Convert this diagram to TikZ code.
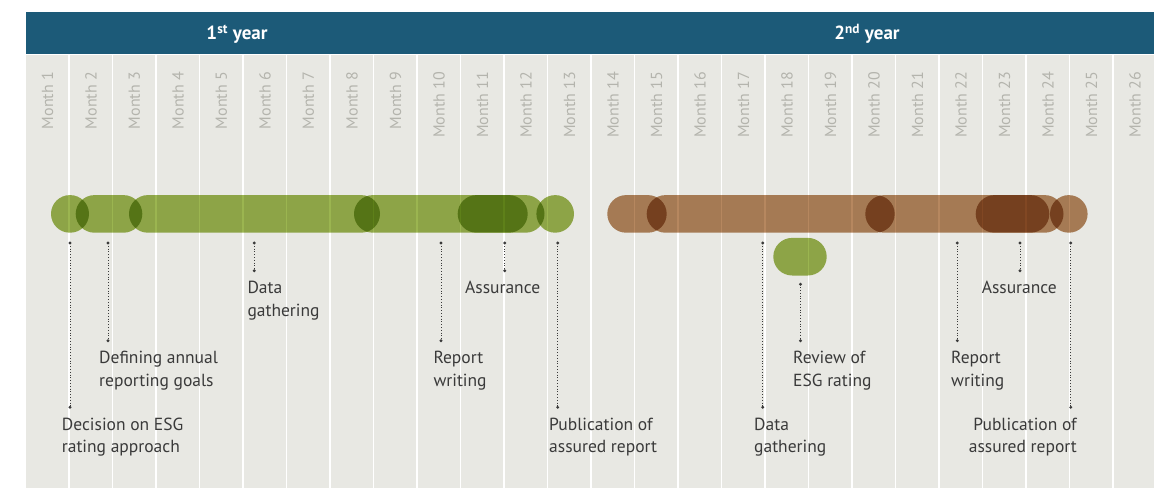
\documentclass[tikz,border=0pt]{standalone}
\usepackage{fontspec}
\setmainfont{PT Sans}
\usetikzlibrary{shapes.misc}
\definecolor{hdr}{RGB}{28,90,120}
\definecolor{panel}{RGB}{232,232,227}
\definecolor{mon}{RGB}{180,180,173}
\definecolor{txt}{RGB}{58,58,58}
\definecolor{gmul}{RGB}{155,181,80}
\definecolor{bmul}{RGB}{182,135,95}
\begin{document}
\begin{tikzpicture}[x=1pt,y=-1pt,
  bar/.style={rounded rectangle, inner sep=0pt, minimum height=37.6pt},
  gbar/.style={bar, fill=gmul},
  bbar/.style={bar, fill=bmul},
  lab/.style={font=\fontsize{17.5}{22.7}\selectfont, text=txt, inner sep=0pt},
  conn/.style={draw=txt, line width=1pt, dash pattern=on 1pt off 1.8pt},
  endpt/.style={circle, fill=txt, inner sep=0pt, minimum size=3.2pt},
  month/.style={rotate=90, anchor=east, inner sep=0pt, font=\fontsize{16}{16}\selectfont, text=mon},
  yr/.style={font=\fontsize{19}{19}\selectfont\bfseries, text=white, anchor=base, inner sep=0pt}
]
\useasboundingbox (0,0) rectangle (1154,488);
\fill[white] (0,0) rectangle (1154,488);
% header and panel
\fill[hdr] (25.7,12) rectangle (1154,54.3);
\fill[panel] (25.7,55.3) rectangle (1154,488);
\node[yr] (y1) at (237,39.3) {1\textsuperscript{st} year};
\node[yr] (y2) at (867,39.3) {2\textsuperscript{nd} year};
% column separators
\foreach \k in {1,...,25}
  \draw[white, line width=1.5pt] ({25.7+43.5*\k},55.3) -- ({25.7+43.5*\k},488);
% month labels
\foreach \k in {1,...,26}
  \node[month] (m\k) at ({25.7+43.5*(\k-0.5)},71.7) {Month \k};
% bars
\begin{scope}[blend mode=multiply]
  \node[gbar, minimum width=38pt] (g1) at (70,213.9) {};
  \node[gbar, minimum width=66.6pt] (g2) at (109,213.9) {};
  \node[gbar, minimum width=251pt] (g3) at (254.5,213.9) {};
  \node[gbar, minimum width=173.7pt] (g4) at (440.85,213.9) {};
  \node[gbar, minimum width=86.8pt] (g5) at (501.1,213.9) {};
  \node[gbar, minimum width=37.6pt] (g6) at (555.2,213.9) {};
  \node[gbar, minimum width=53.4pt] (g7) at (800,256.7) {};
  \node[bbar, minimum width=59.4pt] (b1) at (637,213.9) {};
  \node[bbar, minimum width=248pt] (b2) at (770.7,213.9) {};
  \node[bbar, minimum width=184pt] (b3) at (957.3,213.9) {};
  \node[bbar, minimum width=87.8pt] (b4) at (1019.6,213.9) {};
  \node[bbar, minimum width=37.6pt] (b5) at (1068.8,213.9) {};
\end{scope}
% connectors
\foreach \n/\cx/\ctop/\cbot in {1/70/243/407.3, 2/108/243/340.7, 3/254.3/243/270.7,
    4/441/243/340.7, 5/504.7/243/270.7, 6/557.7/243/407.3, 7/762.7/243/407.3,
    8/800.5/284.3/340.7, 9/957.3/243/340.7, 10/1020/243/270.7, 11/1070.8/243/407.3}{
  \node[endpt] (ct\n) at (\cx,\ctop) {};
  \node[endpt] (cb\n) at (\cx,\cbot) {};
  \draw[conn] (ct\n.center) -- (cb\n.center);
}
% labels (base anchor = baseline of the last line)
\node[lab, anchor=base west, align=left] (l1) at (61.7,452.7) {Decision on ESG\\rating approach};
\node[lab, anchor=base west, align=left] (l2) at (99,386) {Defining annual\\reporting goals};
\node[lab, anchor=base west, align=left] (l3) at (247.3,316) {Data\\gathering};
\node[lab, anchor=base west, align=left] (l4) at (433.3,386) {Report\\writing};
\node[lab, anchor=base] (l5) at (502.7,293.3) {Assurance};
\node[lab, anchor=base west, align=left] (l6) at (549,452.7) {Publication of\\assured report};
\node[lab, anchor=base west, align=left] (l7) at (754,452.7) {Data\\gathering};
\node[lab, anchor=base west, align=left] (l8) at (793,386) {Review of\\ESG rating};
\node[lab, anchor=base west, align=left] (l9) at (951,386) {Report\\writing};
\node[lab, anchor=base] (l10) at (1019.3,293.3) {Assurance};
\node[lab, anchor=base east, align=right] (l11) at (1077,452.7) {Publication of\\assured report};
\end{tikzpicture}
\end{document}
